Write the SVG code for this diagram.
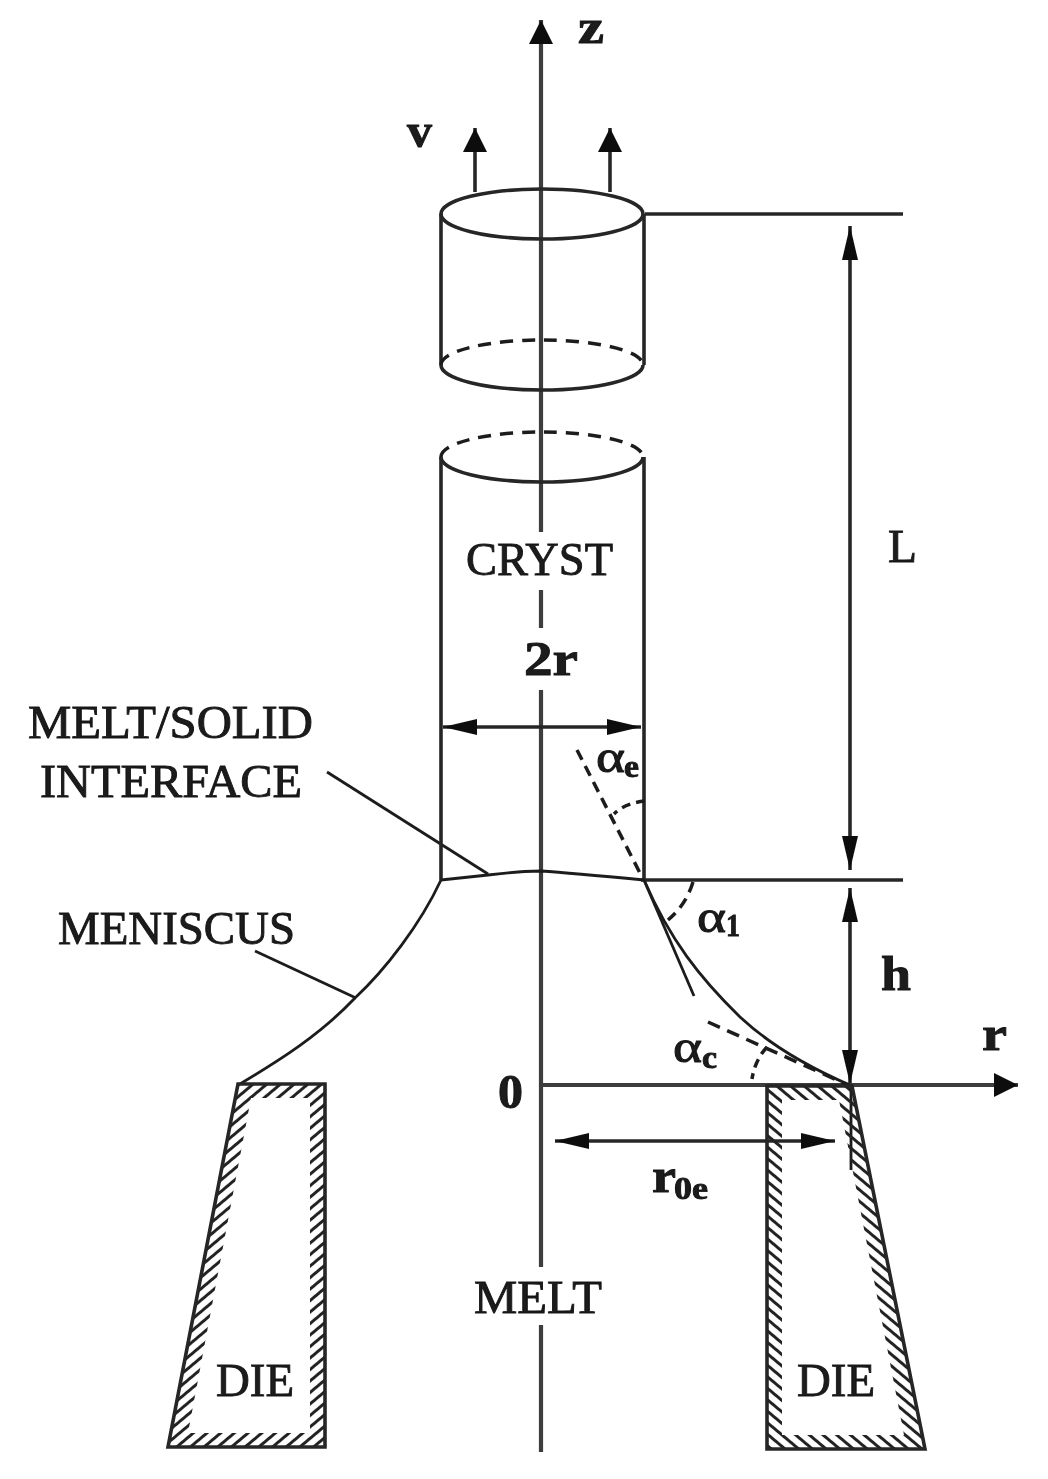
<svg xmlns="http://www.w3.org/2000/svg" width="1048" height="1479" viewBox="0 0 1048 1479">
<style>
.l{fill:none;stroke:#262626;stroke-width:3.6}
.t{fill:none;stroke:#1c1c1c;stroke-width:2.8}
.d{fill:none;stroke:#1c1c1c;stroke-width:3.5;stroke-dasharray:13 9}
.a{fill:none;stroke:#3c3c3c;stroke-width:4.2}
text{font-family:"Liberation Serif","Times New Roman",serif;fill:#1a1a1a;font-size:47px;stroke:#1a1a1a;stroke-width:.9}
.b{font-weight:bold;font-size:49px}
.s{font-size:31px;font-weight:bold}
.g{font-size:46px;stroke-width:1}
</style>
<defs>
<filter id="soft" x="0" y="0" width="1048" height="1479" filterUnits="userSpaceOnUse"><feGaussianBlur stdDeviation="0.7"/></filter>
<pattern id="hl" width="8.8" height="8.8" patternUnits="userSpaceOnUse" patternTransform="translate(0 1084) rotate(-40)"><path d="M0 4.4H8.8" stroke="#222" stroke-width="3" fill="none"/></pattern>
<pattern id="hr" width="8.8" height="8.8" patternUnits="userSpaceOnUse" patternTransform="translate(770 1086) rotate(40)"><path d="M0 4.4H8.8" stroke="#222" stroke-width="3" fill="none"/></pattern>
<marker id="up" viewBox="0 0 24 24" markerWidth="24" markerHeight="24" markerUnits="userSpaceOnUse" refX="24" refY="12" orient="auto-start-reverse"><path d="M0 0L24 12L0 24Z" fill="#111"/></marker>
<marker id="long" viewBox="0 0 34 16" markerWidth="34" markerHeight="16" markerUnits="userSpaceOnUse" refX="34" refY="8" orient="auto-start-reverse"><path d="M0 0L34 8L0 16Z" fill="#111"/></marker>
<clipPath id="top"><rect x="0" y="20" width="1048" height="1459"/></clipPath>
</defs>
<rect width="1048" height="1479" fill="#fff"/>
<g filter="url(#soft)">
<g id="connectors">
<g clip-path="url(#top)"><path class="a" d="M541 1452V1325M541 1267V690M541 628V590M541 532V20" marker-end="url(#up)"/></g>
<path class="l" d="M475 192V128" marker-end="url(#up)"/>
<path class="l" d="M610 192V128" marker-end="url(#up)"/>
<path class="l" d="M645 214H903"/>
<path class="l" d="M641 880H903"/>
<path class="l" d="M850 226V870" marker-start="url(#long)" marker-end="url(#long)"/>
<path class="l" d="M850 888V1084" marker-start="url(#long)" marker-end="url(#long)"/>
<path class="a" d="M541 1085H1018" marker-end="url(#up)"/>
<path class="l" d="M555 1141H835" marker-start="url(#long)" marker-end="url(#long)"/>
<path class="l" d="M443 727H641" marker-start="url(#long)" marker-end="url(#long)"/>
<path class="t" d="M327 772L488 874"/>
<path class="t" d="M255 951L356 998"/>
</g>
<g id="crystal">
<ellipse class="l" cx="542" cy="214" rx="101" ry="25"/>
<path class="l" d="M441 214V365M644 214V365M441 457V880M644 457V880"/>
<path class="l" d="M441 365A101 25 0 0 0 643 365"/>
<path class="d" d="M441 365A101 25 0 0 1 643 365"/>
<path class="l" d="M441 457A101 25 0 0 0 643 457"/>
<path class="d" d="M441 457A101 25 0 0 1 643 457"/>
<text x="466" y="575" textLength="147" lengthAdjust="spacingAndGlyphs">CRYST</text>
</g>
<g id="meniscus">
<path class="t" d="M441 880L488 875Q520 871 541 871Q570 873 644 880"/>
<path class="t" d="M441 880C420 925 385 970 355 998C320 1035 280 1060 240 1084"/>
<path class="t" d="M644 880C670 940 700 978 740 1017C770 1045 810 1068 852 1086"/>
<path class="t" d="M644 880L694 996"/>
<path class="t" d="M851 1086V1170"/>
<path class="d" d="M577 750L641 875" style="stroke-dasharray:11 7"/>
<path class="d" d="M645 801Q625 803 614 814" style="stroke-dasharray:9 6"/>
<path class="d" d="M693 882Q686 905 668 920" style="stroke-dasharray:11 7"/>
<path class="d" d="M708 1022L848 1085" style="stroke-dasharray:13 8"/>
<path class="d" d="M767 1047Q755 1060 752 1079" style="stroke-dasharray:9 6"/>
</g>
<g id="die-left">
<path d="M238 1084H325V1447H168ZM251 1098L188 1433H310V1098Z" fill="url(#hl)" fill-rule="evenodd"/>
<path class="l" d="M238 1084H325V1447H168Z"/>
<text x="216" y="1396" textLength="78" lengthAdjust="spacingAndGlyphs">DIE</text>
</g>
<g id="die-right">
<path d="M767 1086H852L925 1449H767ZM782 1100V1435H904L839 1100Z" fill="url(#hr)" fill-rule="evenodd"/>
<path class="l" d="M767 1086H852Q885 1250 925 1449H767Z"/>
<text x="797" y="1396" textLength="78" lengthAdjust="spacingAndGlyphs">DIE</text>
</g>
<g id="labels">
<text class="b" x="578" y="43" clip-path="url(#top)" textLength="26" lengthAdjust="spacingAndGlyphs">z</text>
<text class="b" x="407" y="147" textLength="25" lengthAdjust="spacingAndGlyphs">v</text>
<text x="888" y="562" textLength="29" lengthAdjust="spacingAndGlyphs">L</text>
<text class="b" x="524" y="675" textLength="54" lengthAdjust="spacingAndGlyphs">2r</text>
<text x="28" y="738" textLength="285" lengthAdjust="spacingAndGlyphs">MELT/SOLID</text>
<text x="40" y="797" textLength="262" lengthAdjust="spacingAndGlyphs">INTERFACE</text>
<text x="58" y="944" textLength="237" lengthAdjust="spacingAndGlyphs">MENISCUS</text>
<text x="474" y="1313" textLength="128" lengthAdjust="spacingAndGlyphs">MELT</text>
<text class="b" x="881" y="990" textLength="30" lengthAdjust="spacingAndGlyphs">h</text>
<text class="b" x="982" y="1050" textLength="25" lengthAdjust="spacingAndGlyphs">r</text>
<text class="b" x="498" y="1108" textLength="25" lengthAdjust="spacingAndGlyphs">0</text>
<text class="b" x="652" y="1192" textLength="24" lengthAdjust="spacingAndGlyphs">r</text>
<text class="s" x="674" y="1199" textLength="34" lengthAdjust="spacingAndGlyphs">0e</text>
<text class="g" x="596" y="772" textLength="29" lengthAdjust="spacingAndGlyphs">α</text>
<text class="s" x="624" y="777" textLength="15" lengthAdjust="spacingAndGlyphs">e</text>
<text class="g" x="697" y="932" textLength="29" lengthAdjust="spacingAndGlyphs">α</text>
<text class="s" x="726" y="936" textLength="14" lengthAdjust="spacingAndGlyphs">1</text>
<text class="g" x="673" y="1062" textLength="29" lengthAdjust="spacingAndGlyphs">α</text>
<text class="s" x="702" y="1068" textLength="15" lengthAdjust="spacingAndGlyphs">c</text>
</g>
</g>
</svg>
